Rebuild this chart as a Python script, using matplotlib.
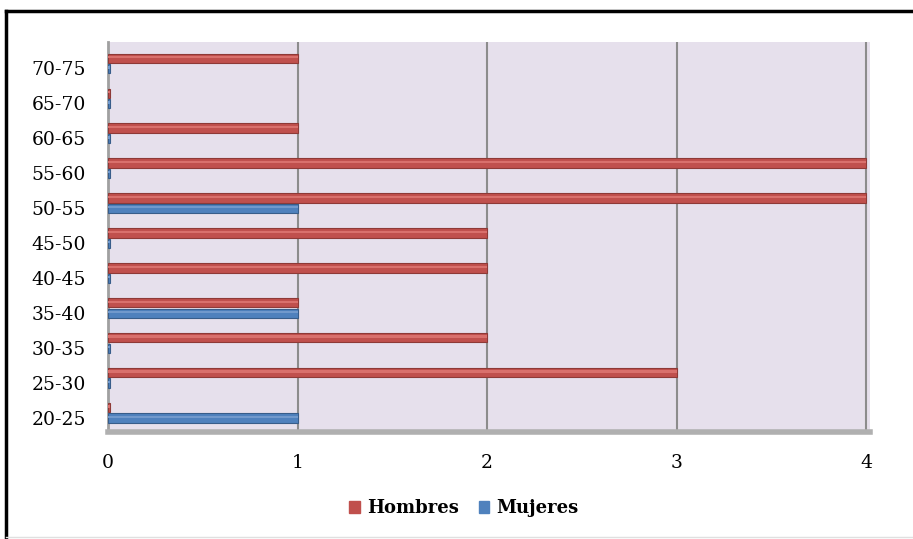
import matplotlib.pyplot as plt
import matplotlib.patches as mpatches
import numpy as np

# Age groups and counts
grupos = ['20-25', '25-30', '30-35', '35-40', '40-45', '45-50',
          '50-55', '55-60', '60-65', '65-70', '70-75']
hombres = [0, 3, 2, 1, 2, 2, 4, 4, 1, 0, 1]
mujeres = [1, 0, 0, 1, 0, 0, 1, 0, 0, 0, 0]

rojo = '#C0504D'
azul = '#4F81BD'
fuente = 'DejaVu Serif'

fig = plt.figure(figsize=(9.13, 5.39), dpi=100)
ax = fig.add_axes([108 / 913, 107 / 539, 762 / 913, 390 / 539])
ax.set_facecolor('#E6E0EC')

y = np.arange(len(grupos))
h = 0.26
# tiny stubs for zero values like in the original
hv = [v if v > 0 else 0.012 for v in hombres]
mv = [v if v > 0 else 0.012 for v in mujeres]
ax.barh(y + 0.29, hv, height=h, color=rojo, edgecolor='#8E3A37', linewidth=0.8, zorder=3)
ax.barh(y, mv, height=h, color=azul, edgecolor='#385D8A', linewidth=0.8, zorder=3)
# light highlight along each bar
ax.barh(y + 0.29 + 0.03, hv, height=h * 0.3, color='#D9706C', linewidth=0, zorder=4)
ax.barh(y + 0.03, mv, height=h * 0.3, color='#7199CC', linewidth=0, zorder=4)

ax.set_xlim(0, 4.02)
ax.set_ylim(-0.4, 10.75)
ax.set_xticks([0, 1, 2, 3, 4])
ax.set_yticks(y)
ax.set_yticklabels(grupos)
ax.tick_params(length=0, labelsize=13.5)
ax.tick_params(axis='y', pad=16)
ax.tick_params(axis='x', pad=16)
for lab in ax.get_xticklabels() + ax.get_yticklabels():
    lab.set_fontfamily(fuente)
ax.grid(axis='x', color='#8C8C8C', linewidth=1.5, zorder=1)

for s in ['top', 'right']:
    ax.spines[s].set_visible(False)
ax.spines['left'].set_color('#A0A0A0')
ax.spines['left'].set_linewidth(2)
ax.spines['bottom'].set_color('#B0B0B0')
ax.spines['bottom'].set_linewidth(4)

handles = [mpatches.Patch(color=rojo, label='Hombres'),
           mpatches.Patch(color=azul, label='Mujeres')]
fig.legend(handles=handles, loc='center', bbox_to_anchor=(0.508, 0.057),
           ncol=2, frameon=False, handlelength=0.6, handleheight=0.6,
           columnspacing=1.1, handletextpad=0.4,
           prop={'family': fuente, 'weight': 'bold', 'size': 13})

# outer frame
fig.add_artist(plt.Line2D([6 / 913, 6 / 913], [0, 1 - 11 / 539], color='black', linewidth=2.5))
fig.add_artist(plt.Line2D([6 / 913, 1], [1 - 11 / 539, 1 - 11 / 539], color='black', linewidth=2.5))
fig.add_artist(plt.Line2D([6 / 913, 1], [2 / 539, 2 / 539], color='#E0E0E0', linewidth=1))

fig.savefig('out.png', dpi=100)
